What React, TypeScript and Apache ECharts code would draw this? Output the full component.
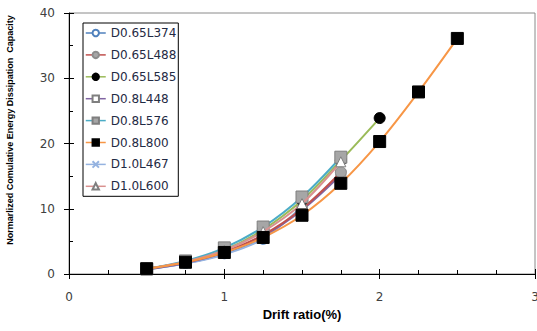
import React, { useEffect, useRef } from "react";
import * as echarts from "echarts";

const drift = [0.5, 0.75, 1.0, 1.25, 1.5, 1.75, 2.0, 2.25, 2.5];
const seriesNames = ["D0.65L374", "D0.65L488", "D0.65L585", "D0.8L448", "D0.8L576", "D0.8L800", "D1.0L467", "D1.0L600"];
const vD065L374 = [0.8, 1.6, 3.1, 5.3];
const vD065L488 = [0.8, 1.8, 3.4, 6.0, 10.0, 15.6];
const vD065L585 = [0.8, 1.9, 3.7, 6.8, 11.3, 17.4, 23.9];
const vD08L448 = [0.7, 1.7, 3.3, 5.8, 9.8, 15.2];
const vD08L576 = [0.8, 2.0, 4.0, 7.2, 11.8, 17.9];
const vD08L800 = [0.8, 1.8, 3.3, 5.6, 9.0, 13.9, 20.3, 27.9, 36.1];
const vD10L467 = [0.7, 1.6, 3.0, 5.4, 10.4];
const vD10L600 = [0.8, 1.9, 3.6, 6.5, 10.8, 17.2];
const xTicks = [0, 1, 2, 3];
const yTicks = [0, 10, 20, 30, 40];

const values = [vD065L374, vD065L488, vD065L585, vD08L448, vD08L576, vD08L800, vD10L467, vD10L600];

const lineColors = ["#4F81BD", "#C0504D", "#9BBB59", "#8064A2", "#4BACC6", "#F79646", "#95B3E0", "#D9918F"];
const styles: any[] = [
  { symbol: "circle", size: 10, fill: "#FFFFFF", border: "#4F81BD" },
  { symbol: "circle", size: 11, fill: "#A6A6A6", border: "#8C8C8C" },
  { symbol: "circle", size: 11, fill: "#000000", border: "#000000" },
  { symbol: "rect", size: 10, fill: "#FFFFFF", border: "#7F7F7F" },
  { symbol: "rect", size: 12, fill: "#A6A6A6", border: "#7F7F7F" },
  { symbol: "rect", size: 12, fill: "#000000", border: "#000000" },
  { symbol: "path://M0,0L10,10M10,0L0,10", size: 9, fill: "none", border: "#95B3E0" },
  { symbol: "triangle", size: 10, fill: "#FFFFFF", border: "#7F7F7F" },
];
const drawOrder = [0, 6, 3, 1, 2, 4, 7, 5];

export default function App() {
  const ref = useRef<HTMLDivElement>(null);
  useEffect(() => {
    if (!ref.current) return;
    const chart = echarts.init(ref.current, null, { renderer: "svg" });
    const series = drawOrder.map((i) => ({
      name: seriesNames[i],
      type: "line",
      smooth: 0.35,
      xAxisIndex: 0,
      yAxisIndex: 0,
      z: 2 + drawOrder.indexOf(i),
      data: values[i].map((v, k) => [drift[k], v]),
      symbol: styles[i].symbol,
      symbolSize: styles[i].size,
      showSymbol: true,
      lineStyle: { color: lineColors[i], width: 2 },
      itemStyle: { color: styles[i].fill, borderColor: styles[i].border, borderWidth: 1 },
      emphasis: { disabled: true },
    }));
    const fontMain = "'DejaVu Sans', Verdana, sans-serif";
    const baseAxisX = {
      type: "value",
      min: 0,
      max: 3,
      interval: 1,
      gridIndex: 0,
    };
    const baseAxisY = {
      type: "value",
      min: 0,
      max: 40,
      interval: 10,
      gridIndex: 0,
    };
    chart.setOption({
      animation: false,
      backgroundColor: "#FFFFFF",
      grid: {
        left: 69,
        right: 2,
        top: 13,
        bottom: 57,
        show: true,
        borderColor: "#8A8A8A",
        borderWidth: 1,
        containLabel: false,
        outerBoundsMode: "none",
      },
      legend: {
        orient: "vertical",
        left: 83,
        top: 23,
        data: seriesNames,
        itemWidth: 20,
        itemHeight: 8,
        itemGap: 7.9,
        padding: [3, 2, 3, 2],
        borderColor: "#000000",
        borderWidth: 1,
        backgroundColor: "#FFFFFF",
        lineStyle: { width: 1.5 },
        textStyle: { fontFamily: fontMain, fontSize: 12, color: "#1F2A44", lineHeight: 14 },
        selectedMode: false,
      },
      xAxis: [
        {
          ...baseAxisX,
          name: "Drift ratio(%)",
          nameLocation: "middle",
          nameGap: 31,
          nameTextStyle: { fontFamily: "'Liberation Sans', Arial, sans-serif", fontWeight: "bold", fontSize: 13, color: "#000" },
          axisLine: { show: true, lineStyle: { color: "#000", width: 1 } },
          axisTick: { show: true, inside: false, length: 5, lineStyle: { color: "#000" } },
          minorTick: { show: false },
          splitLine: { show: false },
          axisLabel: {
            fontFamily: fontMain,
            fontSize: 12,
            color: "#404040",
            margin: 17,
            formatter: (v: number) => (xTicks.includes(v) ? String(v) : ""),
          },
        },
        {
          ...baseAxisX,
          position: "bottom",
          axisLine: { show: false },
          axisTick: { show: true, inside: true, length: 5, lineStyle: { color: "#000" } },
          minorTick: { show: true, splitNumber: 4, length: 4, lineStyle: { color: "#000" } },
          splitLine: { show: false },
          axisLabel: { show: false },
        },
      ],
      yAxis: [
        {
          ...baseAxisY,
          name: "Normarlized Comulative Energy Dissipation  Capacity",
          nameLocation: "middle",
          nameGap: 55,
          nameTextStyle: { fontFamily: "'Liberation Sans', Arial, sans-serif", fontWeight: "bold", fontSize: 9, color: "#000", padding: [0, 0, 0, 27] },
          axisLine: { show: true, lineStyle: { color: "#000", width: 1 } },
          axisTick: { show: true, inside: false, length: 5, lineStyle: { color: "#000" } },
          minorTick: { show: false },
          splitLine: { show: false },
          axisLabel: {
            fontFamily: fontMain,
            fontSize: 12,
            color: "#404040",
            margin: 14,
            formatter: (v: number) => (yTicks.includes(v) ? String(v) : ""),
          },
        },
        {
          ...baseAxisY,
          position: "left",
          axisLine: { show: false },
          axisTick: { show: true, inside: true, length: 5, lineStyle: { color: "#000" } },
          minorTick: { show: true, splitNumber: 2, length: 4, lineStyle: { color: "#000" } },
          splitLine: { show: false },
          axisLabel: { show: false },
        },
      ],
      series,
    });
    return () => chart.dispose();
  }, []);
  return <div ref={ref} style={{ width: 537, height: 331, position: "absolute", left: 0, top: 0 }} />;
}
